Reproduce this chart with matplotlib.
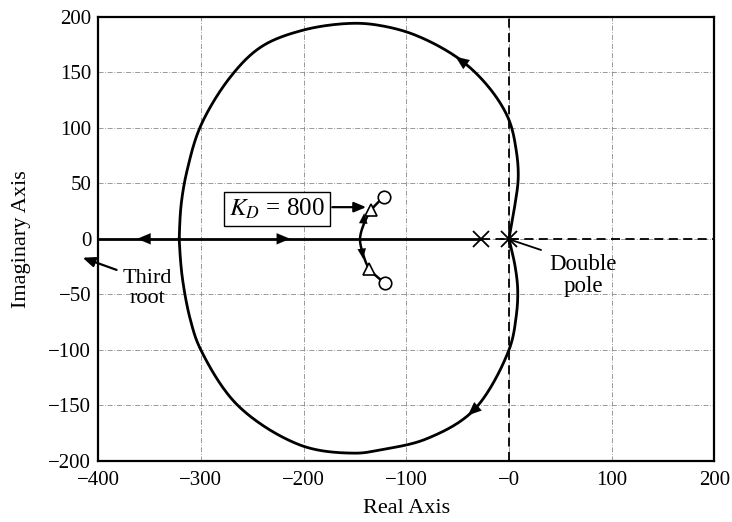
import matplotlib
matplotlib.use("Agg")
import matplotlib.pyplot as plt
import numpy as np

plt.rcParams['font.family'] = ['Liberation Serif', 'DejaVu Serif']
plt.rcParams['mathtext.fontset'] = 'stix'

# Ticks
x_ticks = [-400, -300, -200, -100, 0, 100, 200]
x_tick_labels = ['\u2212400', '\u2212300', '\u2212200', '\u2212100', '\u22120', '100', '200']
y_ticks = [-200, -150, -100, -50, 0, 50, 100, 150, 200]
y_tick_labels = ['\u2212200', '\u2212150', '\u2212100', '\u221250', '0', '50', '100', '150', '200']

# Main locus, upper branch (from double pole to real-axis break-in)
upper_x = [0, 5, 9, 7, 0, -17.5, -47, -90, -125, -154, -200, -241, -271, -300, -313, -319, -321]
upper_y = [0, 26, 55, 80, 107, 134, 161, 183, 192, 194, 188, 173, 146, 102, 63, 32, 0]
# lower branch
lower_x = [0, 6, 8.5, 7, 0, -34, -80, -125, -150, -202.5, -264, -300, -310, -318, -321]
lower_y = [0, -25, -46, -70, -100, -154, -180, -190, -193, -186, -150, -100, -73.5, -35, 0]

# Small branch near the zeros
small_x = [-122, -134, -141, -145, -142, -136, -121]
small_y = [38, 26, 14, 0, -14, -27, -40]

# Poles / zeros / K_D=800 points
poles_x = [-27, 0]
poles_y = [0, 0]
zeros_x = [-122, -121]
zeros_y = [38, -40]
kd_x = [-134, -136]
kd_y = [26, -27]


def smooth(xs, ys, n=30, start_dir=None, end_dir=None):
    # centripetal Catmull-Rom drawing of the read points
    P = np.column_stack([xs, ys]).astype(float)
    first = P[0] - (P[1] - P[0]) if start_dir is None else P[0] - np.array(start_dir, float)
    last = P[-1] + (P[-1] - P[-2]) if end_dir is None else P[-1] + np.array(end_dir, float)
    P = np.vstack([first, P, last])
    out = []
    for i in range(1, len(P) - 2):
        p0, p1, p2, p3 = P[i - 1], P[i], P[i + 1], P[i + 2]
        def tj(ti, a, b):
            return ti + max(np.hypot(*(b - a)), 1e-6) ** 0.5
        t0 = 0.0
        t1 = tj(t0, p0, p1)
        t2 = tj(t1, p1, p2)
        t3 = tj(t2, p2, p3)
        for t in np.linspace(t1, t2, n, endpoint=False):
            A1 = (t1 - t) / (t1 - t0) * p0 + (t - t0) / (t1 - t0) * p1
            A2 = (t2 - t) / (t2 - t1) * p1 + (t - t1) / (t2 - t1) * p2
            A3 = (t3 - t) / (t3 - t2) * p2 + (t - t2) / (t3 - t2) * p3
            B1 = (t2 - t) / (t2 - t0) * A1 + (t - t0) / (t2 - t0) * A2
            B2 = (t3 - t) / (t3 - t1) * A2 + (t - t1) / (t3 - t1) * A3
            out.append((t2 - t) / (t2 - t1) * B1 + (t - t1) / (t2 - t1) * B2)
    out.append(P[-2])
    out = np.array(out)
    return out[:, 0], out[:, 1]


fig = plt.figure(figsize=(7.32, 5.22), dpi=100)
ax = fig.add_axes([0.134, 0.117, 0.842, 0.851])
ax.set_xlim(-400, 200)
ax.set_ylim(-200, 200)

ax.set_xticks(x_ticks)
ax.set_xticklabels(x_tick_labels)
ax.set_yticks(y_ticks)
ax.set_yticklabels(y_tick_labels)
ax.tick_params(length=0, labelsize=15)
ax.tick_params(axis='x', pad=7)
ax.tick_params(axis='y', pad=5)
for s in ax.spines.values():
    s.set_linewidth(1.6)

ax.grid(True, color='#8a8a8a', linestyle=(0, (6, 2, 1, 2)), linewidth=0.6)

# dashed reference lines
ax.plot([0, 0], [-200, 200], color='k', linestyle=(0, (5, 3)), lw=1.3, zorder=2)
ax.plot([-27, 200], [0, 0], color='k', linestyle=(0, (5, 3)), lw=1.3, zorder=2)

# real axis locus
ax.plot([-400, -27], [0, 0], color='k', lw=2, zorder=3)

ux, uy = smooth(upper_x, upper_y, end_dir=(0, -10))
lx, ly = smooth(lower_x, lower_y, end_dir=(0, 10))
sx, sy = smooth(small_x, small_y)
ax.plot(ux, uy, color='k', lw=2, zorder=3)
ax.plot(lx, ly, color='k', lw=2, zorder=3)
ax.plot(sx, sy, color='k', lw=1.8, zorder=3)


def arrowhead(tip, tail, ms=16):
    ax.annotate('', xy=tip, xytext=tail,
                arrowprops=dict(arrowstyle='-|>,head_length=0.6,head_width=0.25', color='k', lw=0.1,
                                mutation_scale=ms, shrinkA=0, shrinkB=0), zorder=5)


arrowhead((-52, 164), (-40, 156))
arrowhead((-40, -159), (-28, -149))
arrowhead((-362, 0), (-350, 0))
arrowhead((-213, 0), (-225, 0))
arrowhead((-141, 23), (-142, 12), ms=12)
arrowhead((-142, -18), (-143.5, -8), ms=12)

# markers
ax.plot(poles_x, poles_y, linestyle='none', marker='x', ms=12, mew=1.3, color='k', zorder=6)
ax.plot([0], [0], linestyle='none', marker='+', ms=13, mew=1.1, color='k', zorder=6)
ax.plot(zeros_x, zeros_y, linestyle='none', marker='o', ms=9, mfc='white', mec='k', mew=1.2, zorder=6)
ax.plot(kd_x, kd_y, linestyle='none', marker='^', ms=9, mfc='white', mec='k', mew=1.2, zorder=6)

# K_D box and arrow
ax.text(-226, 27, r'$K_D$ = 800', fontsize=18, ha='center', va='center', zorder=7,
        bbox=dict(boxstyle='square,pad=0.2', fc='white', ec='k', lw=1.0))
ax.annotate('', xy=(-139, 28.5), xytext=(-172, 28.5),
            arrowprops=dict(arrowstyle='-|>,head_length=0.6,head_width=0.25', color='k', lw=1.6,
                            mutation_scale=12, shrinkA=0, shrinkB=0), zorder=7)

# Third root annotation
ax.annotate('', xy=(-415, -17), xytext=(-382, -28), annotation_clip=False,
            arrowprops=dict(arrowstyle='-|>,head_length=0.6,head_width=0.25', color='k', lw=1.6,
                            mutation_scale=12, shrinkA=0, shrinkB=0), zorder=7)
ax.text(-352, -45, 'Third\nroot', fontsize=16, ha='center', va='center', linespacing=1.1, zorder=7)

# Double pole annotation
ax.plot([2, 31], [-1, -10], color='k', lw=1.3, zorder=6)
ax.text(72, -33, 'Double\npole', fontsize=16.5, ha='center', va='center', linespacing=1.1, zorder=7)

ax.set_xlabel('Real Axis', fontsize=16, labelpad=7)
ax.set_ylabel('Imaginary Axis', fontsize=16, labelpad=12)

fig.savefig('out.png', dpi=100)
